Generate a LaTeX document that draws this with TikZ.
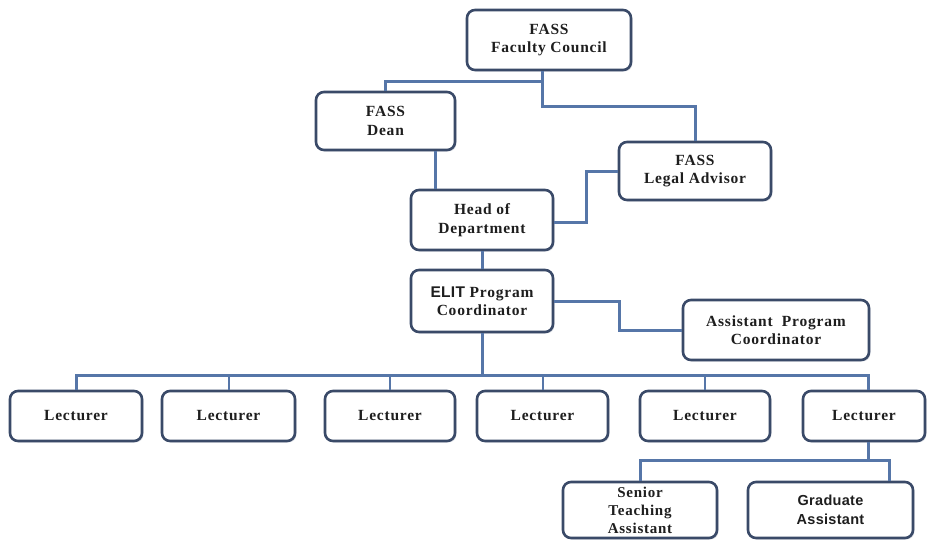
\documentclass[tikz,border=0pt]{standalone}
\usepackage{fontspec}
\setmainfont{Liberation Serif}[LetterSpace=5]
\newfontfamily\sansbold{Liberation Sans}[LetterSpace=2]
\usetikzlibrary{shadows,calc}
\definecolor{linkblue}{HTML}{5676A8}
\definecolor{boxedge}{HTML}{3A4A68}
\definecolor{txt}{HTML}{1E1E1E}
\begin{document}
\begin{tikzpicture}[x=1pt,y=-1pt,
  orgbox/.style={draw=boxedge, line width=2.6pt, rounded corners=8pt, fill=white,
    align=center, inner sep=1pt, text=txt,
    font=\fontsize{15.5}{18.5}\selectfont\bfseries,
    drop shadow={opacity=0.25, shadow xshift=1.5pt, shadow yshift=-1.5pt, fill=boxedge!60}},
  link/.style={draw=linkblue, line width=3pt},
  stub/.style={draw=linkblue, line width=2pt}]
\useasboundingbox (0,0) rectangle (927,542);

\node[orgbox, minimum width=164pt, minimum height=60pt] (council) at (549,40) {FASS\\Faculty Council};
\node[orgbox, minimum width=139pt, minimum height=58pt] (dean) at (385.5,121) {FASS\\Dean};
\node[orgbox, minimum width=152pt, minimum height=58pt] (legal) at (695,171) {FASS\\Legal Advisor};
\node[orgbox, minimum width=142pt, minimum height=60pt] (head) at (482,220) {Head of\\Department};
\node[orgbox, minimum width=142pt, minimum height=62pt] (elit) at (482,301) {{\sansbold ELIT} Program\\Coordinator};
\node[orgbox, minimum width=186pt, minimum height=60pt] (asst) at (776,330) {Assistant \ Program\\Coordinator};

\node[orgbox, minimum width=132pt, minimum height=50pt] (L1) at (76,416) {Lecturer};
\node[orgbox, minimum width=133pt, minimum height=50pt] (L2) at (228.5,416) {Lecturer};
\node[orgbox, minimum width=130pt, minimum height=50pt] (L3) at (390,416) {Lecturer};
\node[orgbox, minimum width=131pt, minimum height=50pt] (L4) at (542.5,416) {Lecturer};
\node[orgbox, minimum width=130pt, minimum height=50pt] (L5) at (705,416) {Lecturer};
\node[orgbox, minimum width=122pt, minimum height=50pt] (L6) at (864,416) {Lecturer};

\node[orgbox, minimum width=154pt, minimum height=56pt, font=\fontsize{15}{18}\selectfont\bfseries] (sta) at (640,510) {Senior\\Teaching\\Assistant};
\node[orgbox, minimum width=165pt, minimum height=56pt, font=\sansbold\fontsize{14.5}{19}\selectfont\bfseries] (ga) at (830.5,510) {Graduate\\Assistant};

\coordinate (bus) at (482,375);
\coordinate (sub) at (868,460);

% council -> dean / legal
\draw[link] ([xshift=-7pt]council.south) -- ++(0,10) -| (dean.north);
\draw[link] ([xshift=-7pt]council.south) -- ++(0,35) -| (legal.north);
% dean -> head
\draw[link] ([xshift=50pt]dean.south) -- ([xshift=50pt]dean.south |- head.north);
% legal -> head
\draw[link] (legal.west) -- ++(-31,0) |- ([yshift=-2pt]head.east);
% head -> elit
\draw[link] (head.south) -- (elit.north);
% elit -> assistant
\draw[link] (elit.east) -- ++(65,0) |- (asst.west);
% elit -> lecturers
\draw[link] (elit.south) -- (bus);
\draw[link] (L1.north) -- (L1.north |- bus) -- ([xshift=4pt]L6.north |- bus) -- ([xshift=4pt]L6.north);
\draw[stub] (L2.north) -- (L2.north |- bus);
\draw[stub] (L3.north) -- (L3.north |- bus);
\draw[stub] (L4.north) -- (L4.north |- bus);
\draw[stub] (L5.north) -- (L5.north |- bus);
% lecturer -> assistants
\draw[link] ([xshift=4pt]L6.south) -- ([xshift=4pt]L6.south |- sub);
\draw[link] (sta.north) -- (sta.north |- sub) -- ([xshift=59pt]ga.north |- sub) -- ([xshift=59pt]ga.north);
\end{tikzpicture}
\end{document}
